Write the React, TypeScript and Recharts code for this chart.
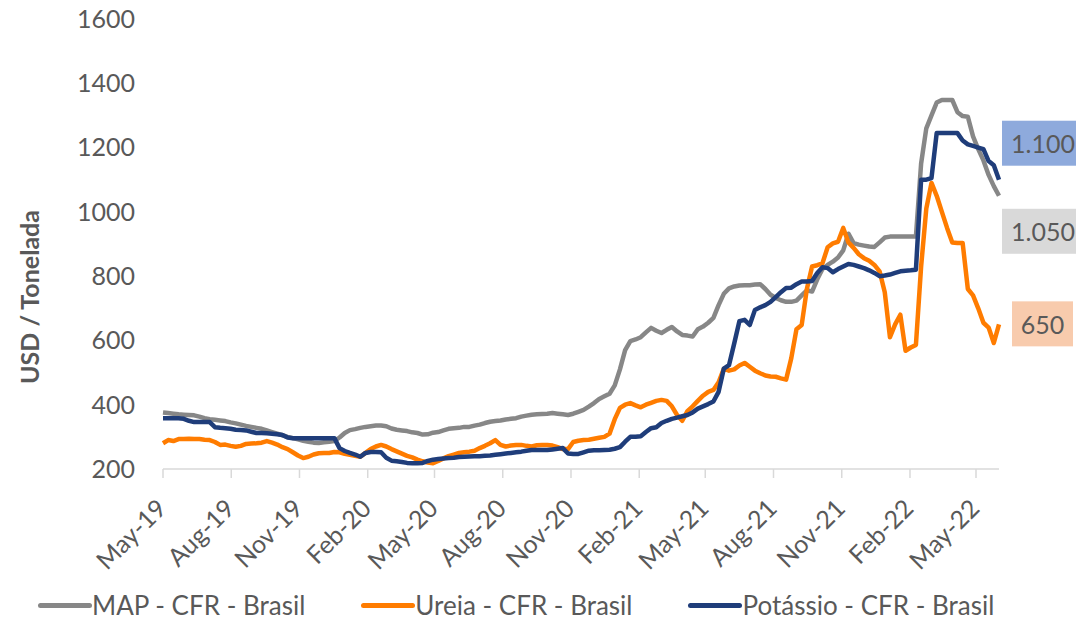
import React from 'react';
import { LineChart, Line, XAxis, YAxis, Legend, LabelList } from 'recharts';

// weekly prices, first week = 1 May 2019
const START = Date.UTC(2019, 4, 1);
const WEEK_MS = 7 * 24 * 3600 * 1000;

const MAP_CFR = [
  376, 374, 372, 370, 369, 368, 367, 363, 358, 355,
  353, 351, 349, 345, 342, 338, 334, 331, 328, 325,
  320, 315, 310, 305, 300, 296, 292, 288, 285, 282,
  281, 283, 285, 287, 298, 312, 321, 324, 328, 331,
  333, 335, 335, 333, 326, 322, 320, 318, 314, 312,
  307, 308, 313, 315, 320, 325, 327, 328, 331, 331,
  335, 338, 343, 347, 349, 351, 354, 356, 358, 363,
  366, 369, 370, 371, 372, 374, 372, 370, 368, 372,
  378, 384, 394, 405, 418, 426, 434, 460, 510, 570,
  598, 603, 610, 625, 639, 630, 623, 633, 642, 628,
  617, 615, 612, 635, 643, 655, 670, 710, 745, 762,
  768, 771, 772, 772, 774, 775, 760, 742, 732, 725,
  720, 720, 724, 740, 756, 752, 790, 822, 835, 845,
  858, 880, 932, 903, 898, 895, 892, 891, 905, 920,
  923, 923, 923, 923, 923, 923, 1150, 1260, 1300, 1340,
  1348, 1348, 1348, 1310, 1298, 1296, 1235, 1195, 1160, 1115,
  1080, 1050,
];

const UREIA_CFR = [
  280, 290, 287, 293, 293, 294, 293, 293, 291, 290,
  284, 275, 276, 272, 269, 272, 278, 279, 280, 282,
  287, 282, 276, 268, 262, 252, 242, 234, 238, 245,
  249, 250, 250, 253, 252, 247, 244, 241, 238, 250,
  262, 270, 275, 270, 262, 255, 248, 241, 236, 229,
  224, 220, 218, 225, 233, 240, 245, 250, 252, 254,
  257, 265, 272, 280, 290, 275, 270, 273, 275, 275,
  272, 270, 274, 275, 275, 273, 268, 262, 262, 284,
  288, 290, 291, 294, 297, 300, 310, 355, 390, 400,
  405, 398, 392, 400, 406, 412, 415, 412, 395, 368,
  350, 380, 395, 412, 428, 440, 446, 470, 512, 506,
  510, 522, 530, 518, 506, 498, 491, 488, 487, 482,
  478, 545, 635, 648, 760, 830, 834, 840, 890, 902,
  907, 950, 905, 888, 868, 856, 848, 835, 815, 750,
  610, 650, 680, 568, 578, 586, 830, 1010, 1090, 1050,
  1000, 950, 905, 903, 903, 760, 740, 700, 655, 640,
  592, 650,
];

const POTASSIO_CFR = [
  358, 358, 358, 358, 356, 350, 346, 346, 346, 346,
  330, 328, 327, 325, 322, 321, 320, 316, 312, 312,
  311, 310, 308, 306, 298, 296, 296, 296, 296, 296,
  296, 296, 296, 296, 265, 256, 250, 245, 238, 250,
  253, 253, 252, 235, 226, 224, 222, 219, 218, 218,
  219, 225, 229, 231, 233, 234, 235, 237, 238, 239,
  240, 240, 241, 242, 244, 246, 248, 250, 252, 254,
  257, 259, 259, 259, 259, 261, 263, 265, 248, 247,
  247, 252, 257, 258, 258, 259, 260, 263, 268, 285,
  300, 300, 302, 315, 327, 330, 343, 350, 356, 360,
  364, 368, 376, 388, 395, 402, 410, 440, 512, 523,
  590, 660, 664, 648, 695, 703, 710, 720, 735, 750,
  763, 764, 775, 783, 783, 785, 810, 828, 825, 812,
  822, 830, 838, 835, 830, 825, 818, 810, 800, 802,
  805, 810, 815, 817, 818, 820, 1100, 1100, 1105, 1245,
  1245, 1245, 1245, 1245, 1222, 1210, 1205, 1200, 1195, 1158,
  1145, 1100,
];

const TICK_DATES = [
  [2019, 4], [2019, 7], [2019, 10], [2020, 1], [2020, 4], [2020, 7], [2020, 10],
  [2021, 1], [2021, 4], [2021, 7], [2021, 10], [2022, 1], [2022, 4],
];
const MONTHS = ['Jan', 'Feb', 'Mar', 'Apr', 'May', 'Jun', 'Jul', 'Aug', 'Sep', 'Oct', 'Nov', 'Dec'];
const Y_TICKS = [200, 400, 600, 800, 1000, 1200, 1400, 1600];

const SERIES = [
  { key: 'map', name: 'MAP - CFR - Brasil', color: '#878787', box: '#d9d9d9', dx: 3, dy: 13 },
  { key: 'ureia', name: 'Ureia - CFR - Brasil', color: '#ff7c00', box: '#f8cbad', dx: 13, dy: -23 },
  { key: 'potassio', name: 'Potássio - CFR - Brasil', color: '#1f3d7a', box: '#8eaadc', dx: 3, dy: -59 },
];

const data = MAP_CFR.map((v, i) => ({
  t: START + i * WEEK_MS,
  map: v,
  ureia: UREIA_CFR[i],
  potassio: POTASSIO_CFR[i],
}));
const LAST = data.length - 1;
const ticks = TICK_DATES.map(([y, m]) => Date.UTC(y, m, 1));

const TEXT = '#595959';
const FONT = 'Lato, sans-serif';

// the chart fills the whole window
document.body.style.margin = '0';

function fmtDate(ms: number) {
  const d = new Date(ms);
  return `${MONTHS[d.getUTCMonth()]}-${String(d.getUTCFullYear()).slice(2)}`;
}

function fmtValue(v: number) {
  return String(Math.round(v)).replace(/\B(?=(\d{3})+(?!\d))/g, '.');
}

function XTick(props: any) {
  const { x, y, payload } = props;
  const tx = x + 5;
  const ty = y + 30;
  return (
    <text x={tx} y={ty} transform={`rotate(-45, ${tx}, ${ty})`} textAnchor="end" fill={TEXT} fontSize={25}>
      {fmtDate(payload.value)}
    </text>
  );
}

function YTitle() {
  return (
    <text
      x={29}
      y={297}
      transform="rotate(-90, 29, 297)"
      textAnchor="middle"
      dominantBaseline="central"
      fill={TEXT}
      fontSize={25}
      fontWeight="bold"
    >
      USD / Tonelada
    </text>
  );
}

function makeEndLabel(s: (typeof SERIES)[number]) {
  return (props: any) => {
    if (props.index !== LAST) return null;
    const px = props.x ?? props.viewBox?.x;
    const py = props.y ?? props.viewBox?.y;
    const w = s.key === 'ureia' ? 61 : 82;
    const h = 45;
    const rx = px + s.dx;
    const ry = py + s.dy;
    return (
      <g>
        <rect x={rx} y={ry} width={w} height={h} fill={s.box} />
        <text x={rx + w / 2} y={ry + h / 2} textAnchor="middle" dominantBaseline="central" fill={TEXT} fontSize={25}>
          {fmtValue(props.value)}
        </text>
      </g>
    );
  };
}

function LegendContent() {
  return (
    <div style={{ display: 'flex', alignItems: 'center', paddingLeft: 38, height: 34, fontFamily: FONT }}>
      {SERIES.map((s) => (
        <div key={s.key} style={{ display: 'flex', alignItems: 'center', marginRight: 56 }}>
          <span style={{ display: 'inline-block', width: 54, height: 5, background: s.color, borderRadius: 3 }} />
          <span style={{ fontSize: 26, color: TEXT, lineHeight: '34px' }}>{s.name}</span>
        </div>
      ))}
    </div>
  );
}

export default function App() {
  return (
    <div style={{ width: 1076, height: 622, fontFamily: FONT, overflow: 'hidden' }}>
      <LineChart width={1076} height={622} data={data} margin={{ top: 19, right: 77, left: 0, bottom: 0 }}>
        <XAxis
          dataKey="t"
          type="number"
          scale="time"
          domain={[START, START + LAST * WEEK_MS]}
          ticks={ticks}
          tick={<XTick />}
          tickSize={9}
          tickMargin={2}
          height={119}
          stroke="#d9d9d9"
          strokeWidth={1.5}
          interval={0}
        />
        <YAxis
          domain={[200, 1600]}
          ticks={Y_TICKS}
          width={163}
          axisLine={false}
          tickLine={false}
          tickMargin={22}
          tick={{ fill: TEXT, fontSize: 25 }}
          interval={0}
          label={<YTitle />}
        />
        <Legend verticalAlign="bottom" height={34} content={<LegendContent />} wrapperStyle={{ left: 0, width: 1076 }} />
        {SERIES.map((s) => (
          <Line
            key={s.key}
            type="linear"
            dataKey={s.key}
            name={s.name}
            stroke={s.color}
            strokeWidth={4.5}
            strokeLinejoin="round"
            dot={false}
            activeDot={false}
            isAnimationActive={false}
          >
            <LabelList dataKey={s.key} content={makeEndLabel(s)} />
          </Line>
        ))}
      </LineChart>
    </div>
  );
}
